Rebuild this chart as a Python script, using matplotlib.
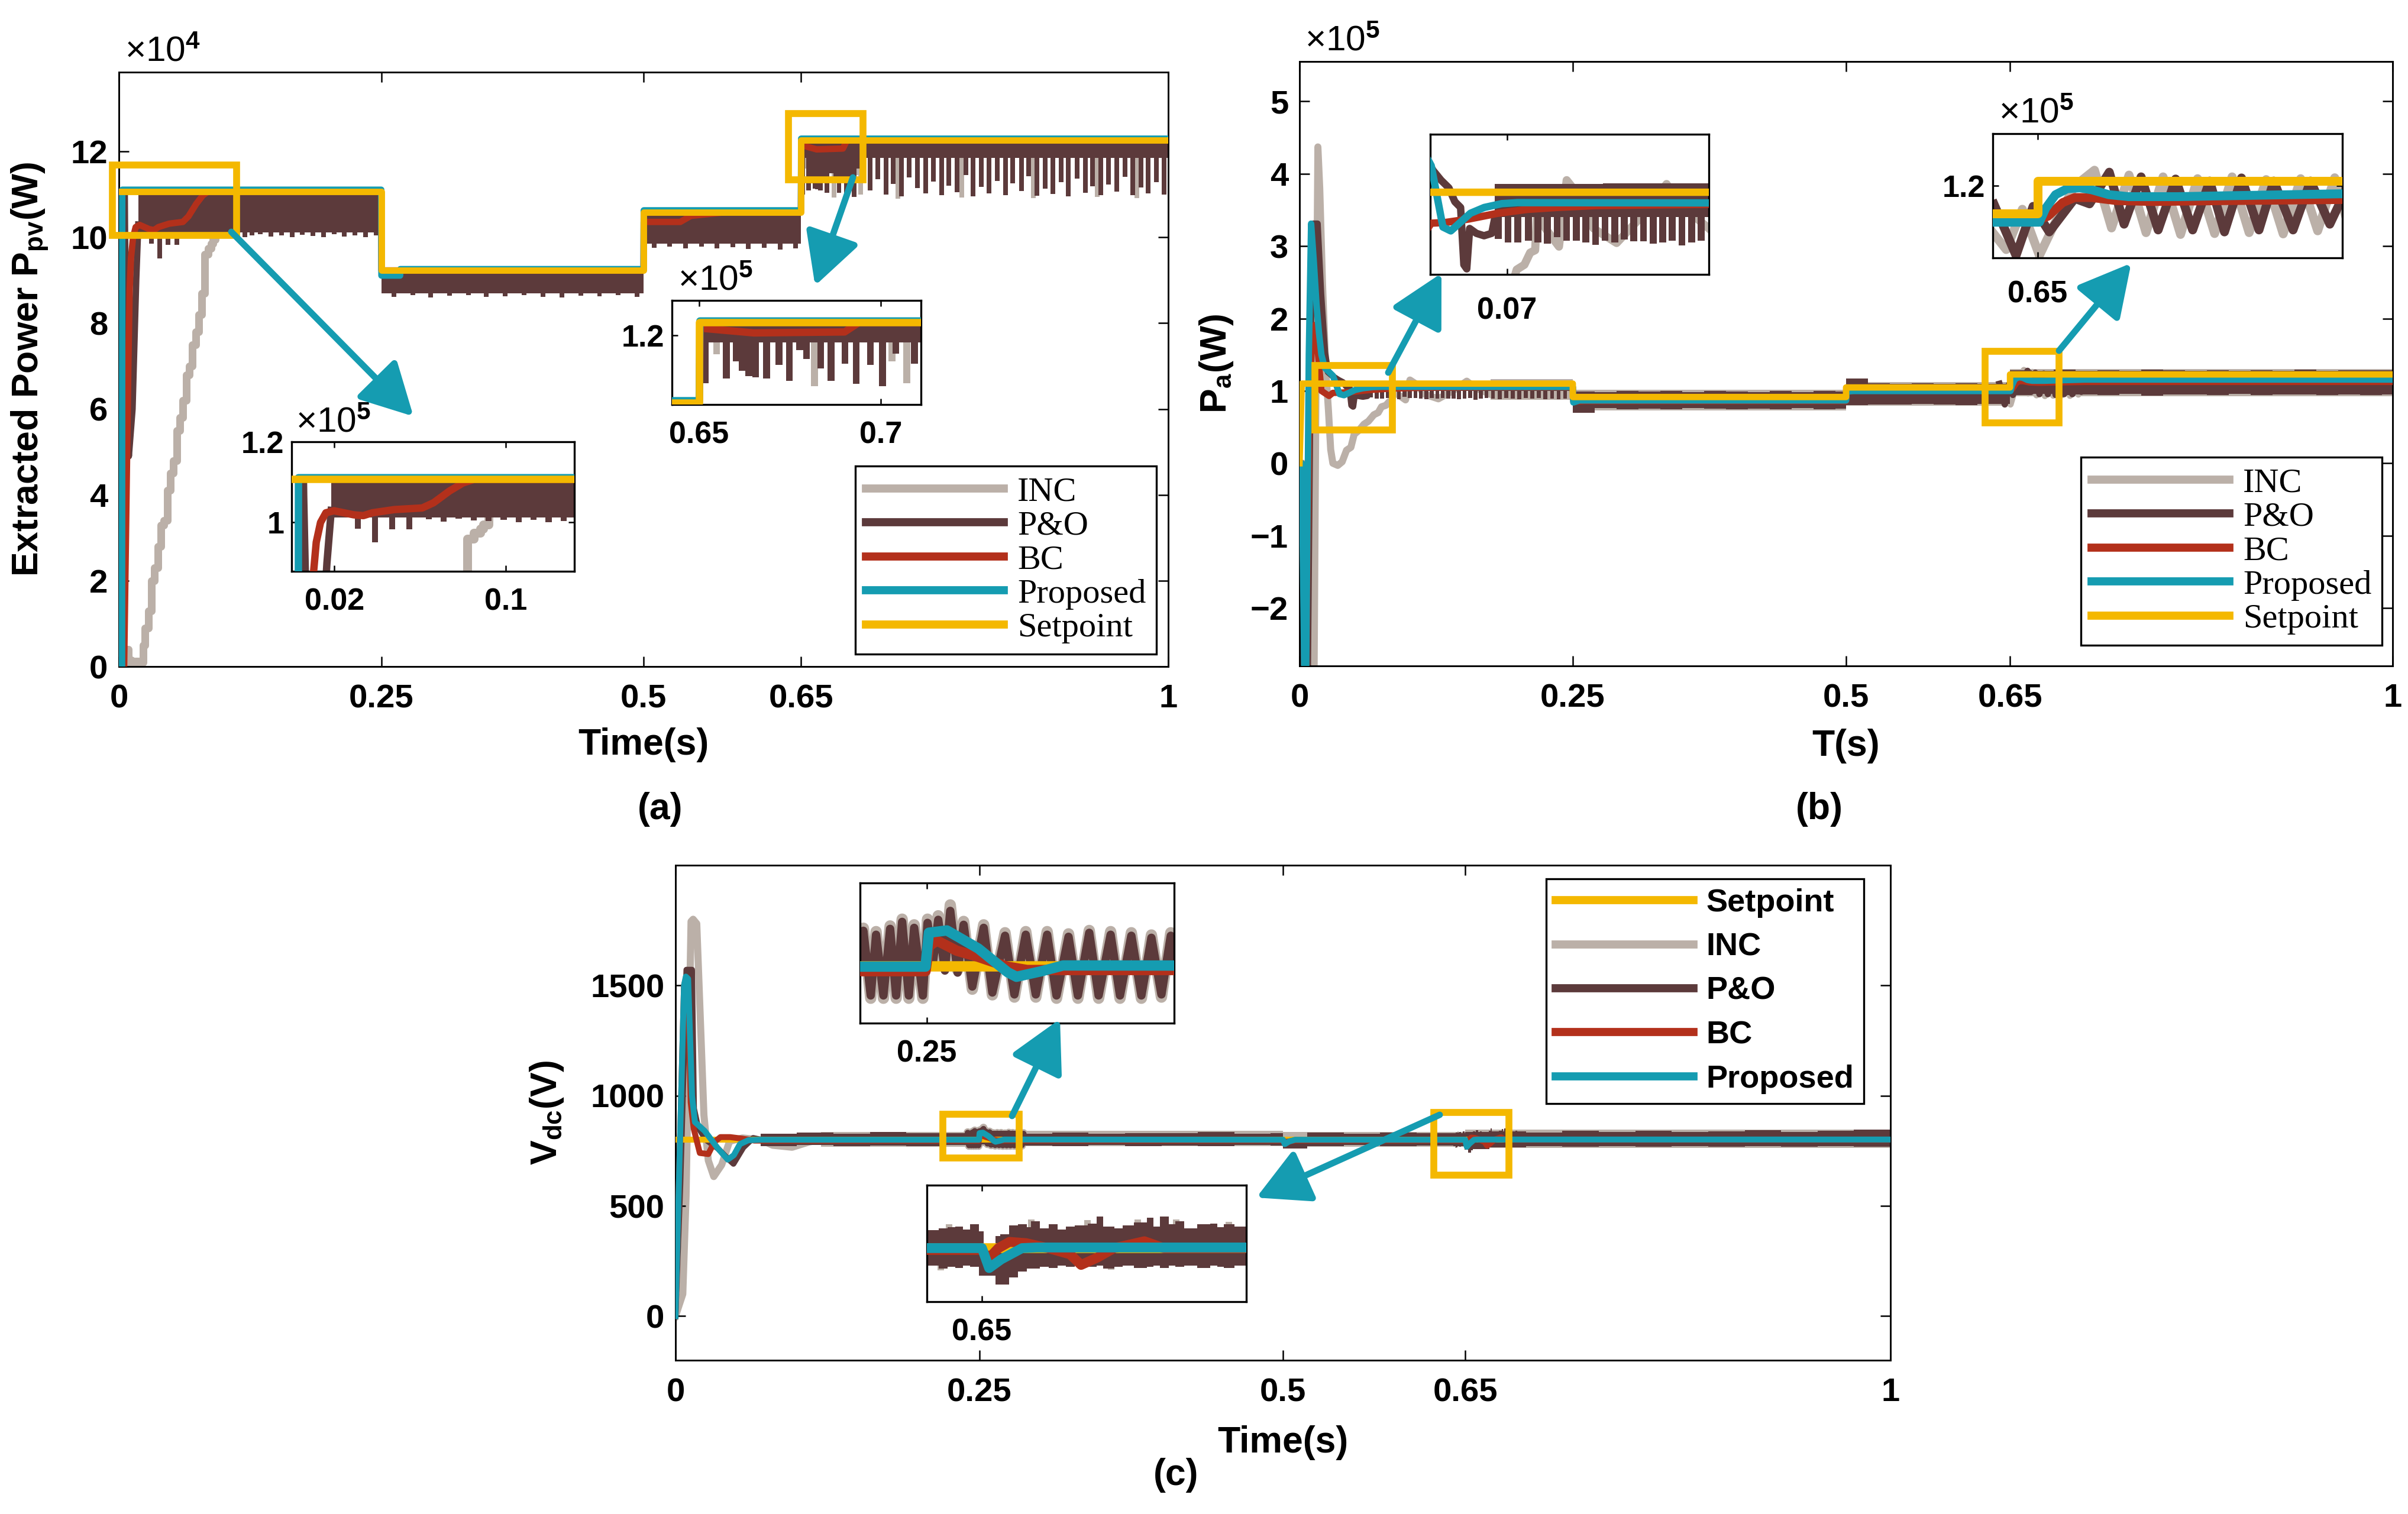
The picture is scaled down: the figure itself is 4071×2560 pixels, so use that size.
import numpy as np
import matplotlib
matplotlib.use("Agg")
import matplotlib.pyplot as plt
from matplotlib.patches import Rectangle, FancyArrowPatch
from matplotlib.lines import Line2D

plt.rcParams['font.family'] = ['Liberation Sans', 'DejaVu Sans']
plt.rcParams['font.weight'] = 'bold'
plt.rcParams['mathtext.fontset'] = 'custom'
plt.rcParams['mathtext.rm'] = 'Liberation Sans'
plt.rcParams['mathtext.bf'] = 'Liberation Sans:bold'
plt.rcParams['mathtext.it'] = 'Liberation Sans:italic'
plt.rcParams['axes.linewidth'] = 0.7

C_INC = '#bbb0a8'
C_PO = '#5c3a3b'
C_BC = '#b3301b'
C_PR = '#159cb1'
C_SP = '#f4b800'

# ---------------- (a) extracted PV power, W ----------------
a_sp_t = [0, 0.25, 0.25, 0.5, 0.5, 0.65, 0.65, 1.0]
a_sp_w = [110700, 110700, 92300, 92300, 105900, 105900, 122700, 122700]

a_pr_t = [0, 0.003, 0.0032, 0.25, 0.2502, 0.268, 0.2682, 0.5, 0.5002, 0.65, 0.6502, 1.0]
a_pr_w = [0, 0, 111100, 111100, 91100, 91100, 92600, 92600, 106300, 106300, 123000, 123000]

a_bc_t = [0, 0.005, 0.007, 0.009, 0.0103, 0.0115, 0.0135, 0.016, 0.0198, 0.029,
          0.0335, 0.0377, 0.048, 0.061, 0.0663, 0.0737, 0.080, 0.0853, 0.25, 0.2502,
          0.5, 0.5002, 0.535, 0.545, 0.58, 0.65, 0.6503, 0.665, 0.69, 0.694, 1.0]
a_bc_w = [0, 0, 35000, 70000, 88000, 95100, 100000, 102400, 102900, 101900,
          101700, 102400, 103200, 103600, 104900, 107800, 109800, 110700, 110700, 92300,
          92300, 103600, 103600, 105000, 105900, 105900, 121500, 120500, 120700, 122700, 122700]

a_inc_t = [0, 0.004, 0.006, 0.009, 0.012, 0.016, 0.020, 0.023, 0.025, 0.028, 0.031,
           0.034, 0.037, 0.040, 0.043, 0.046, 0.049, 0.052, 0.055, 0.058, 0.061, 0.064,
           0.067, 0.070, 0.073, 0.076, 0.079, 0.082, 0.085, 0.088, 0.0895, 0.092, 0.095]
a_inc_w = [0, 0, 4000, 1500, 800, 1200, 1000, 5000, 9000, 13000, 20000,
           23000, 28000, 33000, 34000, 41000, 45000, 48000, 55000, 58000, 62000, 68000,
           70000, 75000, 78000, 82000, 87000, 96000, 97500, 98500, 99500, 104000, 110700]
a_inc_spk = [(0.6548, 116000), (0.6817, 109300), (0.7030, 114500), (0.7071, 110000),
             (0.7425, 109000), (0.8035, 109300), (0.8713, 109100), (0.9325, 109400),
             (0.9700, 109200)]

a_po0_t = [0, 0.004, 0.0055, 0.0075, 0.0095, 0.013, 0.0165, 0.0185]
a_po0_w = [0, 0, 110000, 60000, 49000, 60000, 90000, 103000]
a_po_bt = [0.0185, 0.25, 0.5, 0.65, 1.0]
a_po_blo = [101200, 87000, 98600, 118500, 118500]
a_po_bhi = [110700, 92300, 105900, 122700, 122700]
a_po_spk = [
    (0.031, 98500), (0.039, 95100), (0.047, 98300), (0.055, 98300), (0.064, 100800),
    (0.071, 100200), (0.078, 100900), (0.085, 100500), (0.092, 100300), (0.099, 100700),
    (0.106, 100100), (0.113, 100600), (0.120, 100000), (0.127, 100400), (0.135, 100800),
    (0.145, 100200), (0.155, 100500), (0.165, 100000), (0.175, 100600), (0.185, 100300),
    (0.195, 100100), (0.205, 100700), (0.215, 100200), (0.225, 100500), (0.235, 100000),
    (0.245, 100400),
    (0.262, 86200), (0.280, 86500), (0.297, 86000), (0.315, 86400), (0.333, 86600),
    (0.350, 86100), (0.368, 86300), (0.386, 86500), (0.404, 86200), (0.422, 86000),
    (0.440, 86400), (0.458, 86300), (0.476, 86600), (0.494, 86100),
    (0.510, 97600), (0.525, 97900), (0.540, 97400), (0.555, 97800), (0.570, 97500),
    (0.585, 97700), (0.600, 97300), (0.615, 97600), (0.630, 97200), (0.645, 97500),
    (0.6516, 110000), (0.6575, 111000), (0.6602, 114500), (0.6618, 112600), (0.6637, 111400),
    (0.6655, 111200), (0.6685, 111000), (0.6719, 113800), (0.6748, 110400), (0.6776, 116900),
    (0.6795, 115000), (0.6834, 113000), (0.6863, 110400), (0.6901, 114100), (0.6932, 109800),
    (0.6971, 113800), (0.7004, 109400), (0.7041, 116100), (0.7092, 114100),
    (0.716, 111000), (0.723, 113500), (0.731, 110000), (0.738, 112500), (0.746, 109600),
    (0.753, 114000), (0.761, 111500), (0.769, 110200), (0.776, 113000), (0.784, 109800),
    (0.791, 112000), (0.799, 110500), (0.807, 114500), (0.814, 109500), (0.822, 111800),
    (0.829, 110300), (0.837, 113200), (0.845, 109900), (0.852, 112600), (0.860, 110800),
    (0.867, 114200), (0.875, 109700), (0.883, 111300), (0.890, 110100), (0.898, 112900),
    (0.905, 109600), (0.913, 113700), (0.921, 110400), (0.928, 111900), (0.936, 109800),
    (0.943, 112300), (0.951, 110600), (0.959, 114100), (0.966, 109900), (0.974, 111600),
    (0.981, 110200), (0.989, 112800), (0.996, 110000)]

# ---------------- (b) active power, W ----------------
b_sp_t = [0, 0.002, 0.25, 0.25, 0.5, 0.5, 0.65, 0.65, 1.0]
b_sp_w = [0, 110000, 110000, 91500, 91500, 104700, 104700, 122700, 122700]

b_pr_t = [0, 0.002, 0.0045, 0.006, 0.0085, 0.0106, 0.013, 0.0155, 0.0178, 0.0200,
          0.0230, 0.0305, 0.0366, 0.0407, 0.0509, 0.0581, 0.0673, 0.0754, 0.25, 0.2505,
          0.256, 0.5, 0.5005, 0.506, 0.65, 0.6504, 0.6518, 0.654, 0.6566, 0.6594,
          0.6621, 0.6659, 0.6703, 0.6812, 0.6922, 0.718, 1.0]
b_pr_w = [0, 0, -300000, -300000, 150000, 331000, 280000, 220000, 180000, 150000,
          132000, 121000, 95600, 94000, 101300, 103700, 105300, 105700, 105500, 84000,
          86800, 86800, 99000, 99800, 99800, 99800, 107500, 115100, 118400, 118900,
          117800, 115100, 114000, 114000, 114500, 115600, 115600]

b_bc_t = [0, 0.002, 0.0045, 0.006, 0.009, 0.0115, 0.014, 0.017, 0.020, 0.027,
          0.0305, 0.038, 0.0499, 0.0652, 0.0805, 0.0959, 0.1163, 0.175, 0.25, 0.2505,
          0.26, 0.5, 0.5005, 0.51, 0.65, 0.6523, 0.6556, 0.6583, 0.6621, 0.6676,
          0.6758, 0.6922, 0.718, 1.0]
b_bc_w = [0, 0, -250000, -290000, 80000, 170000, 191000, 150000, 100000, 93000,
          97200, 97500, 98900, 101300, 102900, 103700, 104500, 105000, 105000, 85000,
          86000, 86000, 98500, 100900, 100900, 103100, 110700, 113500, 113500, 111800,
          111300, 111800, 112400, 112400]

b_po0_t = [0, 0.002, 0.004, 0.0075, 0.0105, 0.0124, 0.0165, 0.0197, 0.0233, 0.026,
           0.0315, 0.0356, 0.0397, 0.0428, 0.0458, 0.0475, 0.049, 0.0505, 0.054, 0.058,
           0.062, 0.0637]
b_po0_w = [0, 0, -300000, -300000, 200000, 331000, 331000, 234000, 153000, 126000,
           119000, 115000, 111800, 106100, 103700, 80000, 78300, 95000, 93000, 92000,
           93000, 99800]
b_po_bt = [0.0637, 0.12, 0.18, 0.25, 0.27, 0.29, 0.31, 0.33, 0.35, 0.37, 0.39, 0.41,
           0.43, 0.45, 0.47, 0.49, 0.5, 0.52, 0.54, 0.56, 0.58, 0.60, 0.62, 0.65, 0.67,
           0.69, 0.71, 0.73, 0.75, 0.77, 0.79, 0.81, 0.83, 0.85, 0.87, 0.89, 0.91, 0.93,
           0.95, 0.97, 0.99, 1.0]
b_po_bhi = [113400, 113800, 113200, 99500, 98000, 100000, 98800, 99600, 98200, 100200,
            99000, 98500, 99800, 98300, 99900, 98700, 117000, 110500, 109800, 110800,
            109600, 110200, 109900, 128500, 127800, 129200, 128000, 128800, 127600, 129000,
            128200, 127900, 128900, 127700, 128600, 128100, 129100, 127800, 128500, 128300,
            128700, 128700]
b_po_blo = [99800, 99800, 99800, 70000, 76000, 74500, 75800, 74800, 76200, 75000,
            74200, 75600, 74900, 76000, 74400, 75500, 80000, 81500, 80800, 81800,
            81000, 80500, 81600, 94000, 95500, 93800, 95000, 94500, 95800, 93600,
            94800, 95300, 94100, 95600, 93900, 94700, 95200, 94000, 95400, 94300,
            95000, 95000]
b_po_spk = [
    (0.0655, 90800), (0.0705, 89200), (0.0755, 89200), (0.0810, 90000), (0.0860, 89200),
    (0.0910, 88800), (0.0960, 91500), (0.1010, 90000), (0.1060, 90000), (0.1110, 89200),
    (0.1160, 88200), (0.1210, 90000), (0.1260, 89200), (0.1310, 90400), (0.1360, 89600),
    (0.1410, 89600), (0.1460, 88800), (0.1510, 89200), (0.1560, 90000), (0.1610, 88000),
    (0.1660, 89200), (0.1710, 90000), (0.1770, 89500), (0.1830, 88700), (0.1890, 90200),
    (0.1950, 89000), (0.2010, 88400), (0.2070, 89800), (0.2130, 88900), (0.2190, 90100),
    (0.2250, 88600), (0.2310, 89400), (0.2370, 88200), (0.2430, 89700), (0.2490, 88900)]

b_inc0_t = [0, 0.003, 0.006, 0.0105, 0.0133, 0.0150, 0.0168, 0.0185, 0.021, 0.024,
            0.0265, 0.0285, 0.0305, 0.035, 0.039, 0.043, 0.047, 0.050, 0.054, 0.059,
            0.063, 0.068, 0.072, 0.075, 0.079, 0.082, 0.0846, 0.0856, 0.090, 0.097,
            0.101, 0.106, 0.115, 0.127, 0.140, 0.153, 0.160, 0.175]
b_inc0_w = [0, 0, -150000, -300000, -300000, 100000, 437000, 380000, 250000, 130000,
            72000, 19000, 0, -3000, 2000, 18000, 22000, 40000, 45000, 54000,
            58000, 67000, 70000, 78000, 80000, 85000, 86000, 102000, 95000, 87500,
            115000, 110000, 95000, 89000, 100000, 113400, 105000, 95000]
b_inc_bt = [0.175, 0.25, 0.5, 0.65, 1.0]
b_inc_bhi = [116500, 101500, 112000, 130500, 130500]
b_inc_blo = [87500, 73000, 79500, 92800, 92800]

# oscillation around the 0.65 s step (second zoom of b)
b2_po = [(0.6403, 109700), (0.6452, 81300), (0.6490, 108600), (0.6526, 94400),
         (0.6583, 113000), (0.6616, 110000), (0.6660, 127600), (0.6693, 98700),
         (0.6731, 125000), (0.6769, 95500), (0.6808, 123800), (0.6846, 95500),
         (0.6884, 122700), (0.6917, 94400), (0.6955, 124400), (0.6994, 95500),
         (0.7027, 122700), (0.7070, 95500), (0.7109, 122700), (0.7152, 98700),
         (0.7183, 115000)]
b2_inc = [(0.6397, 95000), (0.6430, 84600), (0.6466, 107000), (0.6504, 81300),
          (0.6540, 100000), (0.6583, 120000), (0.6627, 128700), (0.6665, 96600),
          (0.6704, 126000), (0.6742, 94000), (0.6780, 125000), (0.6819, 93000),
          (0.6857, 124000), (0.6895, 93500), (0.6934, 125000), (0.6972, 94000),
          (0.7010, 123500), (0.7048, 93300), (0.7087, 124000), (0.7125, 95000),
          (0.7163, 124500), (0.7191, 100000)]

# ---------------- (c) DC-link voltage, V ----------------
c_sp_t = [0, 1.0]
c_sp_v = [800, 800]

c_pr_t = [0, 0.007, 0.0085, 0.0104, 0.0136, 0.016, 0.024, 0.035, 0.043, 0.048,
          0.053, 0.06, 0.07, 0.2498, 0.2503, 0.253, 0.2577, 0.2621, 0.2634, 0.2672,
          0.2704, 0.5, 0.5015, 0.505, 0.51, 0.65, 0.6513, 0.6535, 0.6573, 0.66, 1.0]
c_pr_v = [0, 1500, 1540, 1530, 1000, 880, 840, 760, 710, 730,
          780, 798, 800, 800, 830, 832, 816, 795, 791, 796,
          801, 800, 780, 792, 800, 800, 768, 782, 800, 801, 801]

c_bc_t = [0, 0.007, 0.0085, 0.0104, 0.0125, 0.015, 0.02, 0.027, 0.032, 0.037,
          0.045, 0.055, 0.065, 0.2498, 0.2503, 0.2515, 0.2545, 0.2575, 0.262, 0.265,
          0.5, 0.502, 0.51, 0.65, 0.6505, 0.6515, 0.653, 0.655, 0.658, 0.662,
          0.666, 0.668, 0.671, 0.674, 0.6795, 0.683, 1.0]
c_bc_v = [0, 1500, 1530, 1480, 970, 850, 740, 735, 790, 812,
          812, 805, 796, 796, 818, 823, 814, 809, 800, 797,
          797, 790, 797, 797, 790, 786, 800, 810, 808, 800,
          790, 773, 785, 800, 811, 800, 800]

c_po0_t = [0, 0.004, 0.009, 0.0136, 0.0152, 0.0185, 0.025, 0.035, 0.042, 0.0477, 0.0558, 0.064, 0.07]
c_po0_v = [0, 600, 1571, 1571, 942, 858, 800, 760, 720, 691, 765, 808, 800]
c_po_bt = [0.07, 0.10, 0.13, 0.16, 0.19, 0.22, 0.25, 0.28, 0.31, 0.34, 0.37, 0.40,
           0.43, 0.46, 0.49, 0.50, 0.52, 0.55, 0.58, 0.61, 0.64, 0.65, 0.67, 0.70,
           0.73, 0.76, 0.79, 0.82, 0.85, 0.88, 0.91, 0.94, 0.97, 1.0]
c_po_bhi = [828, 832, 826, 834, 829, 831, 840, 828, 833, 827, 831, 829,
            834, 826, 830, 815, 832, 828, 833, 829, 831, 835, 838, 833,
            840, 836, 842, 835, 838, 844, 836, 840, 845, 845]
c_po_blo = [772, 775, 770, 774, 771, 776, 778, 773, 770, 775, 772, 774,
            771, 776, 773, 760, 772, 775, 770, 774, 771, 758, 766, 770,
            768, 772, 769, 771, 767, 770, 768, 772, 769, 769]

c_inc0_t = [0, 0.006, 0.0087, 0.0128, 0.0145, 0.0175, 0.0234, 0.027, 0.0315, 0.038,
            0.0445, 0.055, 0.07, 0.08, 0.096, 0.11, 0.12]
c_inc0_v = [0, 100, 546, 1790, 1800, 1780, 912, 706, 633, 686,
            793, 808, 800, 775, 766, 790, 800]
c_inc_bt = [0.12, 0.25, 0.5, 0.65, 1.0]
c_inc_bhi = [834, 842, 834, 846, 846]
c_inc_blo = [768, 770, 768, 764, 764]

# ripple around the 0.25 s step (first zoom of c)
c1_t = [0.2400, 0.2405, 0.2416, 0.2424, 0.2435, 0.2445, 0.2454, 0.2463, 0.2473, 0.2481,
        0.2494, 0.2501, 0.2509, 0.2517, 0.2527, 0.2535, 0.2546, 0.2555, 0.2568, 0.2585,
        0.2598, 0.2617, 0.2631, 0.2648, 0.2663, 0.2680, 0.2694, 0.2712, 0.2726, 0.2743,
        0.2757, 0.2775, 0.2789, 0.2806, 0.2821, 0.2836, 0.2851, 0.2865, 0.2871]
c1_po = [800, 831.7, 774.5, 828.2, 774.5, 833.4, 774.5, 839.6, 774.5, 834.3,
         774.5, 838.7, 803.5, 841.4, 796.5, 849.3, 794.7, 837.0, 782.4, 834.3,
         777.1, 827.3, 775.4, 828.2, 775.4, 828.2, 774.5, 826.4, 774.5, 829.9,
         774.5, 828.2, 774.5, 827.3, 774.5, 825.5, 775.4, 827.3, 800]
c1_inc = [800, 834, 772, 831, 772, 836, 772, 842, 772, 837,
          772, 842, 806, 845, 799, 854.6, 797, 840, 780, 837,
          775, 830, 773, 831, 773, 831, 772, 829, 772, 832,
          772, 831, 772, 830, 772, 828, 773, 830, 800]

# ripple around the 0.65 s step (second zoom of c)
c2_t = [0.6402, 0.6422, 0.6438, 0.6452, 0.6466, 0.6478, 0.6495, 0.6503, 0.6525, 0.6533,
        0.6549, 0.6565, 0.6581, 0.6589, 0.6605, 0.6621, 0.6637, 0.6652, 0.6668, 0.6692,
        0.6708, 0.6720, 0.6740, 0.6756, 0.6776, 0.6800, 0.6811, 0.6823, 0.6839, 0.6851,
        0.6867, 0.6891, 0.6915, 0.6927, 0.6939, 0.6959, 0.6980]
c2_hi = [828.5, 831.7, 833.3, 834.9, 830.1, 838.0, 827.0, 806.3, 819.0, 822.2,
         836.5, 838.0, 833.3, 842.8, 831.7, 838.0, 830.1, 834.9, 836.5, 839.6,
         850.7, 834.9, 831.7, 836.5, 841.2, 849.1, 834.9, 850.7, 838.0, 842.8,
         831.7, 838.0, 839.6, 833.3, 838.0, 834.9, 834.9]
c2_lo = [771.5, 766.7, 769.9, 768.3, 771.5, 769.9, 755.6, 755.6, 741.4, 741.4,
         752.5, 762.0, 766.7, 766.7, 769.9, 768.3, 771.5, 769.9, 771.5, 769.9,
         771.5, 766.7, 769.9, 771.5, 768.3, 769.9, 771.5, 768.3, 771.5, 769.9,
         771.5, 768.3, 771.5, 769.9, 768.3, 771.5, 771.5]
c2_inc_top = [(0.6440, 838), (0.6590, 846), (0.6692, 845), (0.6783, 846), (0.6853, 846), (0.6948, 842)]
c2_inc_bot = [(0.6425, 764), (0.6735, 765)]


W, H = 4071, 2560
fig = plt.figure(figsize=(W / 300, H / 300), dpi=300)


def box(x0, y0, x1, y1):
    return [x0 / W, 1 - y1 / H, (x1 - x0) / W, (y1 - y0) / H]


def fpt(x, y):
    return (x / W, 1 - y / H)


def arr(v, s=1.0):
    return np.asarray(v, dtype=float) / s


def band(ax, t, lo, hi, color, s, z):
    ax.fill_between(t, arr(lo, s), arr(hi, s), step='post', color=color, lw=0, zorder=z)


def spikes(ax, pairs, bt, blo, color, s, width, z):
    t = np.array([p[0] for p in pairs])
    lo = np.array([p[1] for p in pairs], dtype=float)
    idx = np.clip(np.searchsorted(bt, t, side='right') - 1, 0, len(bt) - 1)
    top = np.asarray(blo, dtype=float)[idx] + 300
    ax.bar(t, (top - lo) / s, bottom=lo / s, width=width, color=color, lw=0, zorder=z)


def pairs_line(ax, pairs, color, s, lw, z):
    t = [p[0] for p in pairs]
    v = arr([p[1] for p in pairs], s)
    ax.plot(t, v, color=color, lw=lw, zorder=z)


def draw_a(ax, s, lw, spk_w):
    ax.plot(a_inc_t, arr(a_inc_w, s), color=C_INC, lw=lw * 1.2, drawstyle='steps-post', zorder=1)
    spikes(ax, a_inc_spk, a_po_bt, a_po_blo, C_INC, s, spk_w, 1)
    ax.plot(a_po0_t, arr(a_po0_w, s), color=C_PO, lw=lw, zorder=2)
    band(ax, a_po_bt, a_po_blo, a_po_bhi, C_PO, s, 2)
    spikes(ax, a_po_spk, a_po_bt, a_po_blo, C_PO, s, spk_w, 2)
    ax.plot(a_bc_t, arr(a_bc_w, s), color=C_BC, lw=lw, zorder=3)
    ax.plot(a_pr_t, arr(a_pr_w, s), color=C_PR, lw=lw, zorder=4)
    ax.plot(a_sp_t, arr(a_sp_w, s), color=C_SP, lw=lw, zorder=5)


def draw_b(ax, s, lw, bands=True):
    ax.plot(b_inc0_t, arr(b_inc0_w, s), color=C_INC, lw=lw * 1.1, zorder=1)
    if bands:
        band(ax, b_inc_bt, b_inc_blo, b_inc_bhi, C_INC, s, 1)
    pairs_line(ax, b2_inc, C_INC, s, lw, 1)
    ax.plot(b_po0_t, arr(b_po0_w, s), color=C_PO, lw=lw, zorder=2)
    if bands:
        band(ax, b_po_bt, b_po_blo, b_po_bhi, C_PO, s, 2)
        spikes(ax, b_po_spk, b_po_bt, b_po_blo, C_PO, s, 0.0036, 2)
    pairs_line(ax, b2_po, C_PO, s, lw, 2)
    ax.plot(b_bc_t, arr(b_bc_w, s), color=C_BC, lw=lw, zorder=3)
    ax.plot(b_pr_t, arr(b_pr_w, s), color=C_PR, lw=lw, zorder=4)
    ax.plot(b_sp_t, arr(b_sp_w, s), color=C_SP, lw=lw, zorder=5)


def draw_c(ax, lw, main=True, lw_po=None):
    lw_po = lw if lw_po is None else lw_po
    ax.plot(c_inc0_t, c_inc0_v, color=C_INC, lw=lw * 1.2, zorder=1)
    if main:
        band(ax, c_inc_bt, c_inc_blo, c_inc_bhi, C_INC, 1, 1)
    ax.plot(c1_t, c1_inc, color=C_INC, lw=lw_po * 1.35, zorder=1)
    for grp in (c2_inc_top, c2_inc_bot):
        t = [p[0] for p in grp]
        v = np.array([p[1] for p in grp], dtype=float)
        ax.bar(t, v - 800, bottom=800, width=0.0012, color=C_INC, lw=0, zorder=1)
    ax.plot(c_po0_t, c_po0_v, color=C_PO, lw=lw, zorder=2)
    if main:
        band(ax, c_po_bt, c_po_blo, c_po_bhi, C_PO, 1, 2)
    ax.plot(c1_t, c1_po, color=C_PO, lw=lw_po, zorder=2)
    band(ax, c2_t, c2_lo, c2_hi, C_PO, 1, 2)
    ax.plot(c_sp_t, c_sp_v, color=C_SP, lw=lw, zorder=3)
    ax.plot(c_bc_t, c_bc_v, color=C_BC, lw=lw, zorder=4)
    ax.plot(c_pr_t, c_pr_v, color=C_PR, lw=lw, zorder=5)


def style_main(ax):
    ax.tick_params(direction='in', length=4, width=0.6, top=True, right=True, labelsize=13.5)
    ax.tick_params(axis='x', pad=7)
    ax.tick_params(axis='y', pad=4.5)


def make_inset(rect, xt, xl, yt, yl, xpad=6.5):
    ax = fig.add_axes(rect)
    ax.set_xticks(xt)
    ax.set_xticklabels(xl)
    ax.set_yticks(yt)
    ax.set_yticklabels(yl)
    ax.tick_params(direction='in', length=2.5, width=0.6, top=True, right=True, labelsize=12.5)
    ax.tick_params(axis='x', pad=xpad)
    ax.tick_params(axis='y', pad=3)
    for sp in ax.spines.values():
        sp.set_linewidth(0.8)
    ax.set_zorder(10)
    return ax


def rect(ax, x0, y0, x1, y1):
    ax.add_patch(Rectangle((x0, y0), x1 - x0, y1 - y0, fill=False, ec=C_SP, lw=2.8,
                           clip_on=False, zorder=7))


def arrow(p0, p1):
    fig.add_artist(FancyArrowPatch(fpt(*p0), fpt(*p1), transform=fig.transFigure,
                                   arrowstyle='-|>,head_length=0.9,head_width=0.48',
                                   mutation_scale=20, color=C_PR, lw=2.6,
                                   shrinkA=0, shrinkB=0, zorder=20))


def sci(x, y, e):
    fig.text(x / W, 1 - y / H, '×10$^{%d}$' % e, fontsize=14.5, fontweight='normal',
             ha='left', va='baseline')


def legend(ax, order, anchor, serif):
    handles = [Line2D([], [], color=c, lw=3.3) for c, _ in order]
    labels = [lab for _, lab in order]
    if serif:
        prop = {'family': 'Liberation Serif', 'weight': 'normal', 'size': 14}
        spacing = 0.08
        hl = 4.0
    else:
        prop = {'family': 'Liberation Sans', 'weight': 'bold', 'size': 13}
        spacing = 0.45
        hl = 4.3
    leg = ax.legend(handles, labels, loc='upper left', bbox_to_anchor=fpt(*anchor),
                    bbox_transform=fig.transFigure, prop=prop, handlelength=hl,
                    handletextpad=0.4, labelspacing=spacing, borderpad=0.3,
                    borderaxespad=0, fancybox=False, framealpha=1, edgecolor='black')
    leg.get_frame().set_linewidth(0.8)
    leg.set_zorder(15)


ticks_t = [0, 0.25, 0.5, 0.65, 1]
ticks_l = ['0', '0.25', '0.5', '0.65', '1']

# ---------------- panel (a) ----------------
ax_a = fig.add_axes(box(201, 122, 1975, 1127))
draw_a(ax_a, 1e4, 2.6, 0.0045)
ax_a.set_xlim(0, 1)
ax_a.set_ylim(0, 13.85)
ax_a.set_xticks(ticks_t)
ax_a.set_xticklabels(ticks_l)
ax_a.set_yticks([0, 2, 4, 6, 8, 10, 12])
style_main(ax_a)
ax_a.set_xlabel('Time(s)', fontsize=15, fontweight='bold')
ax_a.set_ylabel(r'Extracted Power P$_{\mathbf{pv}}$(W)', fontsize=15, fontweight='bold')
ax_a.xaxis.set_label_coords(0.5, -0.132)
ax_a.xaxis.label.set_va('center')
ax_a.yaxis.set_label_coords(-0.085, 0.5)
ax_a.yaxis.label.set_va('center')
rect(ax_a, -0.006, 10.04, 0.112, 11.68)
rect(ax_a, 0.638, 11.34, 0.709, 12.88)
sci(211, 104, 4)
legend(ax_a, [(C_INC, 'INC'), (C_PO, 'P&O'), (C_BC, 'BC'), (C_PR, 'Proposed'), (C_SP, 'Setpoint')],
       (1446, 788), True)

ia1 = make_inset(box(493, 747, 971, 966), [0.02, 0.1], ['0.02', '0.1'], [1, 1.2], ['1', '1.2'])
draw_a(ia1, 1e5, 3.0, 0.0028)
ia1.set_xlim(0, 0.132)
ia1.set_ylim(0.879, 1.2)
sci(500, 731, 5)

ia2 = make_inset(box(1136, 508, 1557, 684), [0.65, 0.7], ['0.65', '0.7'], [1.2], ['1.2'])
draw_a(ia2, 1e5, 3.0, 0.0019)
ia2.set_xlim(0.6425, 0.711)
ia2.set_ylim(1.055, 1.273)
sci(1146, 491, 5)

# ---------------- panel (b) ----------------
ax_b = fig.add_axes(box(2197, 104, 4045, 1126))
draw_b(ax_b, 1e5, 2.6)
ax_b.set_xlim(0, 1)
ax_b.set_ylim(-2.8, 5.55)
ax_b.set_xticks(ticks_t)
ax_b.set_xticklabels(ticks_l)
ax_b.set_yticks([-2, -1, 0, 1, 2, 3, 4, 5])
style_main(ax_b)
ax_b.set_xlabel('T(s)', fontsize=15, fontweight='bold')
ax_b.set_ylabel(r'P$_{\mathbf{a}}$(W)', fontsize=15, fontweight='bold')
ax_b.xaxis.set_label_coords(0.5, -0.133)
ax_b.xaxis.label.set_va('center')
ax_b.yaxis.set_label_coords(-0.076, 0.5)
ax_b.yaxis.label.set_va('center')
rect(ax_b, 0.014, 0.46, 0.085, 1.35)
rect(ax_b, 0.627, 0.555, 0.695, 1.55)
sci(2206, 86, 5)
legend(ax_b, [(C_INC, 'INC'), (C_PO, 'P&O'), (C_BC, 'BC'), (C_PR, 'Proposed'), (C_SP, 'Setpoint')],
       (3518, 773), True)

ib1 = make_inset(box(2418, 227, 2889, 464), [0.07], ['0.07'], [], [], xpad=9)
draw_b(ib1, 1e5, 3.0)
ib1.set_xlim(0.03, 0.175)
ib1.set_ylim(0.76, 1.34)

ib2 = make_inset(box(3369, 226, 3960, 436), [0.65], ['0.65'], [1.2], ['1.2'], xpad=9)
draw_b(ib2, 1e5, 3.6, bands=False)
ib2.set_xlim(0.64, 0.718)
ib2.set_ylim(0.80, 1.49)
sci(3379, 208, 5)

# ---------------- panel (c) ----------------
ax_c = fig.add_axes(box(1142, 1463, 3196, 2300))
draw_c(ax_c, 2.4)
ax_c.set_xlim(0, 1)
ax_c.set_ylim(-200, 2045)
ax_c.set_xticks(ticks_t)
ax_c.set_xticklabels(ticks_l)
ax_c.set_yticks([0, 500, 1000, 1500])
style_main(ax_c)
ax_c.set_xlabel('Time(s)', fontsize=15, fontweight='bold')
ax_c.set_ylabel(r'V$_{\mathbf{dc}}$(V)', fontsize=15, fontweight='bold')
ax_c.xaxis.set_label_coords(0.5, -0.167)
ax_c.xaxis.label.set_va('center')
ax_c.yaxis.set_label_coords(-0.106, 0.5)
ax_c.yaxis.label.set_va('center')
rect(ax_c, 0.22, 718, 0.283, 917)
rect(ax_c, 0.624, 640, 0.686, 925)
legend(ax_c, [(C_SP, 'Setpoint'), (C_INC, 'INC'), (C_PO, 'P&O'), (C_BC, 'BC'), (C_PR, 'Proposed')],
       (2614, 1486), False)

ic1 = make_inset(box(1454, 1493, 1985, 1730), [0.25], ['0.25'], [], [])
draw_c(ic1, 4.2, main=False, lw_po=3.4)
ic1.set_xlim(0.24, 0.287)
ic1.set_ylim(750, 874)

ic2 = make_inset(box(1567, 2004, 2107, 2201), [0.65], ['0.65'], [], [])
draw_c(ic2, 4.0, main=False, lw_po=3.0)
ic2.set_xlim(0.64, 0.698)
ic2.set_ylim(714, 901)

# arrows from the marked boxes to their zooms
arrow((391, 392), (699, 704))
arrow((1442, 300), (1378, 483))
arrow((2347, 630), (2437, 462))
arrow((3481, 593), (3603, 445))
arrow((1711, 1887), (1792, 1723))
arrow((2434, 1885), (2124, 2025))

fig.text(1116 / W, 1 - 1368 / H, '(a)', fontsize=15, fontweight='bold', ha='center', va='center')
fig.text(3076 / W, 1 - 1368 / H, '(b)', fontsize=15, fontweight='bold', ha='center', va='center')
fig.text(1988 / W, 1 - 2494 / H, '(c)', fontsize=15, fontweight='bold', ha='center', va='center')

fig.savefig('out.png', dpi=300)
